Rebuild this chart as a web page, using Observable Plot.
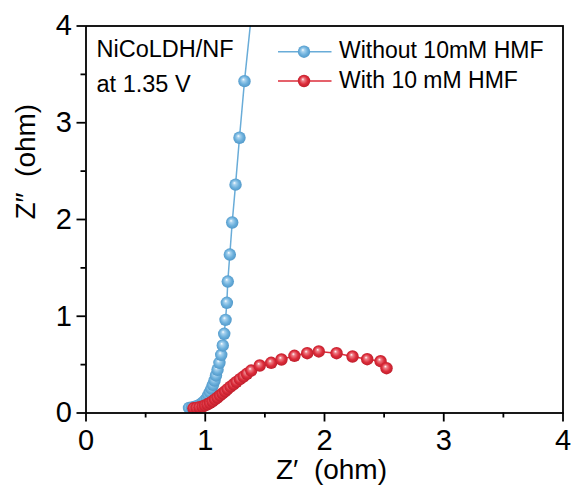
<!DOCTYPE html>
<html><head><meta charset="utf-8">
<script src="https://cdn.jsdelivr.net/npm/d3@7"></script>
<script src="https://cdn.jsdelivr.net/npm/@observablehq/plot@0.6"></script>
<style>body{margin:0;background:#fff} svg{display:block}</style>
</head><body><div id="chart"></div>
<script>
// ---- data ----
const seriesNames = ["Without 10mM HMF", "With 10 mM HMF"];
const blueX = [0.864, 0.889, 0.914, 0.939, 0.960, 0.981, 0.998, 1.015, 1.027, 1.040, 1.052, 1.065, 1.078, 1.090,
               1.103, 1.119, 1.134, 1.147, 1.159, 1.170, 1.181, 1.189, 1.206, 1.226, 1.254, 1.287, 1.329, 1.390, 1.450];
const blueY = [0.052, 0.057, 0.064, 0.075, 0.090, 0.109, 0.131, 0.157, 0.186, 0.217, 0.253, 0.291, 0.336, 0.388,
               0.447, 0.519, 0.601, 0.698, 0.819, 0.963, 1.139, 1.359, 1.638, 1.969, 2.360, 2.845, 3.430, 4.150, 4.900];
const redX = [0.901, 0.927, 0.952, 0.977, 0.998, 1.019, 1.040, 1.061, 1.082, 1.103, 1.124, 1.145, 1.166, 1.187,
              1.212, 1.237, 1.262, 1.291, 1.321, 1.350, 1.385, 1.457, 1.553, 1.639, 1.748, 1.855, 1.952, 2.101,
              2.235, 2.358, 2.470, 2.520];
const redY = [0.049, 0.053, 0.059, 0.067, 0.078, 0.090, 0.104, 0.121, 0.140, 0.160, 0.181, 0.202, 0.224, 0.247,
              0.272, 0.297, 0.322, 0.350, 0.377, 0.405, 0.439, 0.491, 0.519, 0.553, 0.591, 0.618, 0.636, 0.618,
              0.584, 0.556, 0.535, 0.463];
const majorTicks = [0, 1, 2, 3, 4];
const minorTicks = [0.5, 1.5, 2.5, 3.5];
const annotation = ["NiCoLDH/NF", "at 1.35 V"];
const xTitle = "Z\u2032\u00A0 (ohm)";
const yTitle = "Z\u2033\u00A0 (ohm)";

const blueColor = "#69acd8", redColor = "#dc2c3a";
const blue = blueX.map((x, i) => ({x, y: blueY[i]}));
const red = redX.map((x, i) => ({x, y: redY[i]}));

const font = "'Liberation Sans', Arial, Helvetica, sans-serif";
const chart = Plot.plot({
  width: 572, height: 494,
  marginLeft: 85.5, marginRight: 9.5, marginTop: 25.5, marginBottom: 81.5,
  style: {fontFamily: font, color: "#000", background: "#fff"},
  x: {domain: [0, 4]},
  y: {domain: [0, 4]},
  marks: [
    Plot.line(blue, {x: "x", y: "y", stroke: blueColor, strokeWidth: 1.5, clip: true}),
    Plot.dot(blue, {x: "x", y: "y", r: 6.2, fill: "url(#gBlue)", stroke: "none", clip: true}),
    Plot.line(red, {x: "x", y: "y", stroke: redColor, strokeWidth: 1.5, clip: true}),
    Plot.dot(red, {x: "x", y: "y", r: 6.2, fill: "url(#gRed)", stroke: "none", clip: true}),
    Plot.frame({stroke: "#000", strokeWidth: 1.8}),
    Plot.axisX({ticks: majorTicks, tickSize: 9, tickPadding: 7, fontSize: 29, tickFormat: d => String(d), label: null, strokeWidth: 1.8}),
    Plot.axisX({ticks: minorTicks, tickSize: 5, tickFormat: () => "", label: null, strokeWidth: 1.8}),
    Plot.axisY({ticks: majorTicks, tickSize: 9, tickPadding: 5, fontSize: 29, tickFormat: d => String(d), label: null, strokeWidth: 1.8}),
    Plot.axisY({ticks: minorTicks, tickSize: 5, tickFormat: () => "", label: null, strokeWidth: 1.8}),
    Plot.text([xTitle], {frameAnchor: "bottom", dx: 7, dy: 57, lineAnchor: "middle", fontSize: 28, fill: "#000"}),
    Plot.text([yTitle], {frameAnchor: "left", dx: -60, rotate: -90, lineAnchor: "middle", fontSize: 28, fill: "#000"}),
    Plot.text([annotation[0]], {frameAnchor: "top-left", dx: 10.5, dy: 30.5, lineAnchor: "bottom", textAnchor: "start", fontSize: 23.5, fill: "#000"}),
    Plot.text([annotation[1]], {frameAnchor: "top-left", dx: 10.5, dy: 65.5, lineAnchor: "bottom", textAnchor: "start", fontSize: 23.5, fill: "#000"})
  ]
});

const svg = d3.select(chart);
const defs = svg.insert("defs", ":first-child");
function grad(id, light, base, dark) {
  const g = defs.append("radialGradient").attr("id", id)
    .attr("cx", 0.5).attr("cy", 0.5).attr("r", 0.55).attr("fx", 0.4).attr("fy", 0.35);
  g.append("stop").attr("offset", "0%").attr("stop-color", "#ffffff");
  g.append("stop").attr("offset", "22%").attr("stop-color", light);
  g.append("stop").attr("offset", "60%").attr("stop-color", base);
  g.append("stop").attr("offset", "100%").attr("stop-color", dark);
}
grad("gBlue", "#a9d3ef", "#6cb0dc", "#4c94c6");
grad("gRed", "#ee8088", "#dc2c3a", "#b81c29");

// legend
const leg = svg.append("g").attr("font-family", font).attr("font-size", 23).attr("text-anchor", "start");
[[seriesNames[0], blueColor, "gBlue", 51.7, 57.7], [seriesNames[1], redColor, "gRed", 81, 88.3]].forEach(([name, c, g, yy, base]) => {
  leg.append("line").attr("x1", 278).attr("x2", 331.5).attr("y1", yy).attr("y2", yy).attr("stroke", c).attr("stroke-width", 1.5);
  leg.append("circle").attr("cx", 304).attr("cy", yy).attr("r", 6.2).attr("fill", `url(#${g})`);
  leg.append("text").attr("x", 339).attr("y", base).attr("text-anchor", "start").attr("fill", "#000").text(name);
});

document.getElementById("chart").appendChild(chart);
</script>
</body></html>
